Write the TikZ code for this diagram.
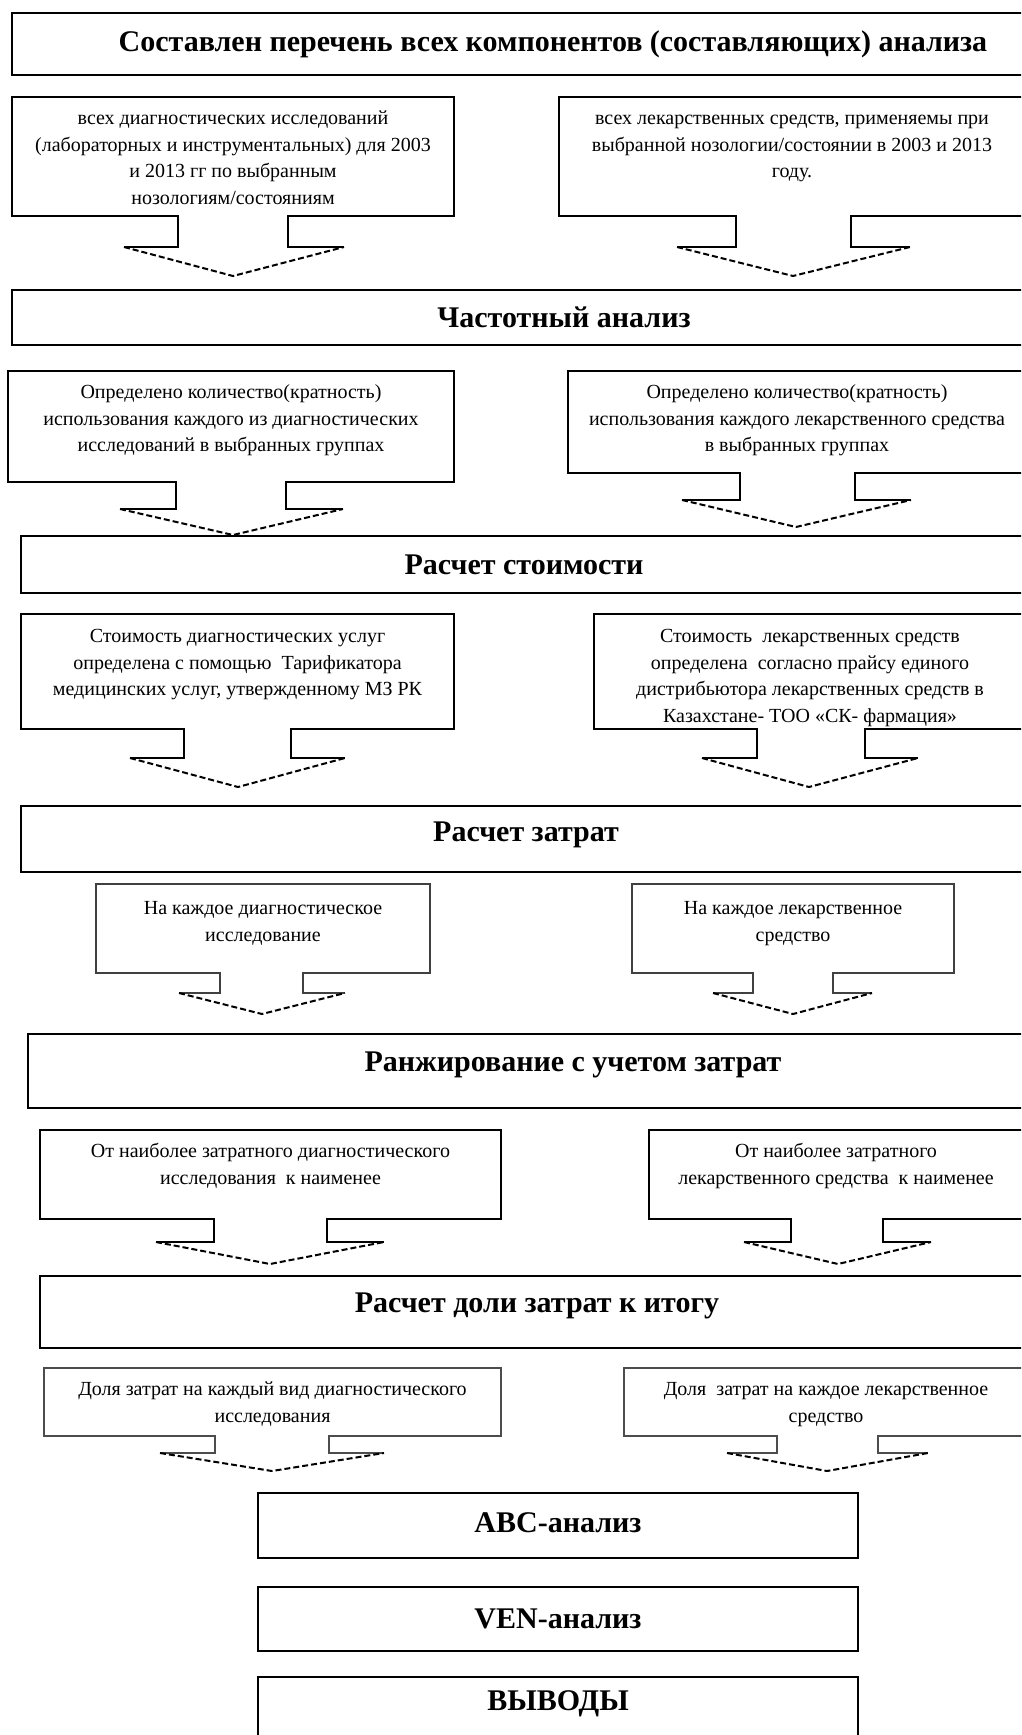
\documentclass[tikz,border=0pt]{standalone}
\usepackage{fontspec}
\setmainfont{Liberation Serif}
\usetikzlibrary{positioning}

\tikzset{
    stage/.style={draw, line width=2pt, inner sep=0pt, outer sep=0pt},
    cbox/.style={inner sep=0pt, outer sep=0pt},
    ctext/.style={align=center, inner sep=0pt, font=\fontsize{20}{26.5}\selectfont},
    rim/.style={line width=1.6pt},
    tipline/.style={line width=2pt, dash pattern=on 6pt off 3pt},
    every label/.style={font=\bfseries\fontsize{30}{34}\selectfont},
}

\begin{document}
\begin{tikzpicture}[x=1pt, y=-1pt]
    \clip (0,0) rectangle (1021,1735);
    \fill [white] (0,0) rectangle (1021,1735);

    % headings
    \node (Title) [stage, minimum width=1082, minimum height=62, label=center:Составлен перечень всех компонентов (составляющих) анализа] at (553,44) {};
    \node (Freq) [stage, minimum width=1104, minimum height=55, label=center:Частотный анализ] at (564,317.5) {};
    \node (Cost) [stage, minimum width=1006, minimum height=57, label=center:Расчет стоимости] at (524,564.5) {};
    \node (Expense) [stage, minimum width=1010, minimum height=66, label={[yshift=4pt]center:Расчет затрат}] at (526,839) {};
    \node (Rank) [stage, minimum width=1090, minimum height=74, label={[yshift=6pt]center:Ранжирование с учетом затрат}] at (573,1071) {};
    \node (Share) [stage, minimum width=994, minimum height=72, label={[yshift=6pt]center:Расчет доли затрат к итогу}] at (537,1312) {};
    \node (ABC) [stage, minimum width=600, minimum height=65, label={[yshift=3pt]center:ABC-анализ}] at (558,1525.5) {};
    \node (VEN) [stage, minimum width=600, minimum height=64, label=center:VEN-анализ] at (558,1619) {};
    \node (Final) [stage, minimum width=600, minimum height=64, label={[yshift=5pt]center:ВЫВОДЫ}] at (558,1709) {};

    % callout boxes
    \node (DiagList) [cbox, minimum width=442, minimum height=119] at (233,156.5) {};
    \node (DrugList) [cbox, minimum width=466, minimum height=119] at (792,156.5) {};
    \node (DiagFreq) [cbox, minimum width=446, minimum height=111] at (231,426.5) {};
    \node (DrugFreq) [cbox, minimum width=458, minimum height=102] at (797,422) {};
    \node (DiagCost) [cbox, minimum width=433, minimum height=115] at (237.5,671.5) {};
    \node (DrugCost) [cbox, minimum width=432, minimum height=115] at (810,671.5) {};
    \node (DiagExp) [cbox, minimum width=334, minimum height=89] at (263,928.5) {};
    \node (DrugExp) [cbox, minimum width=322, minimum height=89] at (793,928.5) {};
    \node (DiagRank) [cbox, minimum width=461, minimum height=89] at (270.5,1174.5) {};
    \node (DrugRank) [cbox, minimum width=374, minimum height=89] at (836,1174.5) {};
    \node (DiagShare) [cbox, minimum width=457, minimum height=68] at (272.5,1402) {};
    \node (DrugShare) [cbox, minimum width=404, minimum height=68] at (826,1402) {};

    % callout texts
    \node (DiagListT) [ctext, below=9pt of DiagList.north] {\strut всех диагностических исследований\\(лабораторных и инструментальных) для 2003\\и 2013 гг по выбранным\\нозологиям/состояниям};
    \node (DrugListT) [ctext, below=9pt of DrugList.north] {\strut всех лекарственных средств, применяемы при\\выбранной нозологии/состоянии в 2003 и 2013\\году.};
    \node (DiagFreqT) [ctext, below=9pt of DiagFreq.north] {\strut Определено количество(кратность)\\использования каждого из диагностических\\исследований в выбранных группах};
    \node (DrugFreqT) [ctext, below=9pt of DrugFreq.north] {\strut Определено количество(кратность)\\использования каждого лекарственного средства\\в выбранных группах};
    \node (DiagCostT) [ctext, below=10pt of DiagCost.north] {\strut Стоимость диагностических услуг\\определена с помощью~ Тарификатора\\медицинских услуг, утвержденному МЗ РК};
    \node (DrugCostT) [ctext, below=10pt of DrugCost.north] {\strut Стоимость~ лекарственных средств\\определена~ согласно прайсу единого\\дистрибьютора лекарственных средств в\\Казахстане- ТОО «СК- фармация»};
    \node (DiagExpT) [ctext, below=12pt of DiagExp.north] {\strut На каждое диагностическое\\исследование};
    \node (DrugExpT) [ctext, below=12pt of DrugExp.north] {\strut На каждое лекарственное\\средство};
    \node (DiagRankT) [ctext, below=9pt of DiagRank.north] {\strut От наиболее затратного диагностического\\исследования~ к наименее};
    \node (DrugRankT) [ctext, below=9pt of DrugRank.north] {\strut От наиболее затратного\\лекарственного средства~ к наименее};
    \node (DiagShareT) [ctext, below=9pt of DiagShare.north] {\strut Доля затрат на каждый вид диагностического\\исследования};
    \node (DrugShareT) [ctext, below=9pt of DrugShare.north] {\strut Доля~ затрат на каждое лекарственное\\средство};

    % callout outlines with their arrows
    \draw [rim] (124,247) -- (178,247) -- (178,216) -- (DiagList.south west) |- (DiagList.north east) -- (DiagList.south east) -- (288,216) -- (288,247) -- (344,247);
    \draw [tipline] (124,247) -- (233,276) -- (344,247);
    \draw [rim] (677,247) -- (736,247) -- (736,216) -- (DrugList.south west) |- (DrugList.north east) -- (DrugList.south east) -- (851,216) -- (851,247) -- (910,247);
    \draw [tipline] (677,247) -- (793,276) -- (910,247);

    \draw [rim] (120,509) -- (176,509) -- (176,482) -- (DiagFreq.south west) |- (DiagFreq.north east) -- (DiagFreq.south east) -- (286,482) -- (286,509) -- (343,509);
    \draw [tipline] (120,509) -- (233,535) -- (343,509);
    \draw [rim] (682,500) -- (740,500) -- (740,473) -- (DrugFreq.south west) |- (DrugFreq.north east) -- (DrugFreq.south east) -- (855,473) -- (855,500) -- (911,500);
    \draw [tipline] (682,500) -- (796,527) -- (911,500);

    \draw [rim] (130,758) -- (184,758) -- (184,729) -- (DiagCost.south west) |- (DiagCost.north east) -- (DiagCost.south east) -- (291,729) -- (291,758) -- (345,758);
    \draw [tipline] (130,758) -- (238,787) -- (345,758);
    \draw [rim] (702,758) -- (757,758) -- (757,729) -- (DrugCost.south west) |- (DrugCost.north east) -- (DrugCost.south east) -- (865,729) -- (865,758) -- (918,758);
    \draw [tipline] (702,758) -- (809,787) -- (918,758);

    \draw [rim, black!75] (179,993) -- (220,993) -- (220,973) -- (DiagExp.south west) |- (DiagExp.north east) -- (DiagExp.south east) -- (303,973) -- (303,993) -- (345,993);
    \draw [tipline] (179,993) -- (262,1014) -- (345,993);
    \draw [rim, black!75] (713,993) -- (753,993) -- (753,973) -- (DrugExp.south west) |- (DrugExp.north east) -- (DrugExp.south east) -- (833,973) -- (833,993) -- (872,993);
    \draw [tipline] (713,993) -- (793,1014) -- (872,993);

    \draw [rim] (156,1242) -- (214,1242) -- (214,1219) -- (DiagRank.south west) |- (DiagRank.north east) -- (DiagRank.south east) -- (327,1219) -- (327,1242) -- (384,1242);
    \draw [tipline] (156,1242) -- (270,1264) -- (384,1242);
    \draw [rim] (744,1242) -- (791,1242) -- (791,1219) -- (DrugRank.south west) |- (DrugRank.north east) -- (DrugRank.south east) -- (883,1219) -- (883,1242) -- (931,1242);
    \draw [tipline] (744,1242) -- (838,1264) -- (931,1242);

    \draw [rim, black!70] (160,1453) -- (215,1453) -- (215,1436) -- (DiagShare.south west) |- (DiagShare.north east) -- (DiagShare.south east) -- (329,1436) -- (329,1453) -- (384,1453);
    \draw [tipline] (160,1453) -- (272,1471) -- (384,1453);
    \draw [rim, black!70] (727,1453) -- (777,1453) -- (777,1436) -- (DrugShare.south west) |- (DrugShare.north east) -- (DrugShare.south east) -- (878,1436) -- (878,1453) -- (928,1453);
    \draw [tipline] (727,1453) -- (827,1471) -- (928,1453);
\end{tikzpicture}
\end{document}
